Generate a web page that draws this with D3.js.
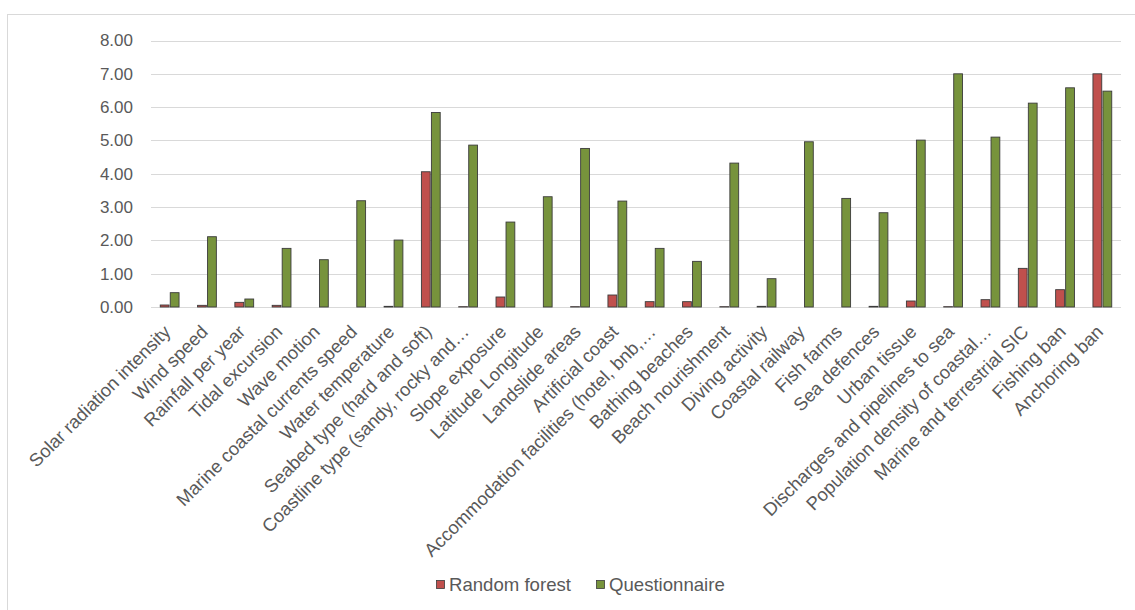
<!DOCTYPE html>
<html>
<head>
<meta charset="utf-8">
<script src="https://cdn.jsdelivr.net/npm/d3@7"></script>
<style>
  html, body { margin: 0; padding: 0; background: #ffffff; }
  svg { display: block; font-family: "Liberation Sans", Arial, sans-serif; }
</style>
</head>
<body>
<svg id="chart" width="1135" height="610"></svg>
<script>
const categories = [
  "Solar radiation intensity", "Wind speed", "Rainfall per year", "Tidal excursion",
  "Wave motion", "Marine coastal currents speed", "Water temperature",
  "Seabed type (hard and soft)", "Coastline type (sandy, rocky and\u2026",
  "Slope exposure", "Latitude Longitude", "Landslide areas", "Artificial coast",
  "Accommodation facilities (hotel, bnb,\u2026", "Bathing beaches", "Beach nourishment",
  "Diving activity", "Coastal railway", "Fish farms", "Sea defences", "Urban tissue",
  "Discharges and pipelines to sea", "Population density of coastal\u2026",
  "Marine and terrestrial SIC", "Fishing ban", "Anchoring ban"
];
const randomForest = [
  0.06, 0.05, 0.14, 0.05, 0.00, 0.00, 0.02, 4.06, 0.01, 0.30, 0.00, 0.01, 0.36,
  0.16, 0.16, 0.01, 0.02, 0.00, 0.00, 0.02, 0.18, 0.01, 0.22, 1.16, 0.52, 7.00
];
const questionnaire = [
  0.43, 2.11, 0.24, 1.76, 1.42, 3.19, 2.01, 5.84, 4.86, 2.55, 3.31, 4.76, 3.18,
  1.76, 1.37, 4.32, 0.85, 4.96, 3.26, 2.83, 5.01, 7.00, 5.10, 6.12, 6.58, 6.48
];
const seriesNames = ["Random forest", "Questionnaire"];
const yTicks = [0, 1, 2, 3, 4, 5, 6, 7, 8];

const colors = ["#C0504D", "#77933C"];
const textColor = "#595959";

const svg = d3.select("#chart");

// chart area border
svg.append("rect")
  .attr("x", 7.5).attr("y", 14.5)
  .attr("width", 1140).attr("height", 610)
  .attr("fill", "none").attr("stroke", "#d9d9d9").attr("stroke-width", 1);

const x = d3.scaleBand().domain(categories).range([151, 1121]).paddingInner(0).paddingOuter(0);
const y = d3.scaleLinear().domain([0, 8]).range([307, 40.5]);

// gridlines
svg.append("g")
  .selectAll("line")
  .data(yTicks)
  .join("line")
  .attr("x1", 151).attr("x2", 1121)
  .attr("y1", d => Math.round(y(d)) + 0.5)
  .attr("y2", d => Math.round(y(d)) + 0.5)
  .attr("stroke", "#d9d9d9").attr("stroke-width", 1.2);

// y axis labels
const yAxis = d3.axisLeft(y).tickValues(yTicks).tickFormat(d3.format(".2f")).tickSize(0).tickPadding(0);
const gy = svg.append("g").attr("transform", "translate(133,0)").call(yAxis);
gy.select(".domain").remove();
gy.selectAll("text")
  .attr("fill", textColor)
  .style("font-size", "17px")
  .style("font-family", "'Liberation Sans', Arial, sans-serif");

// bars
const barW = 8.8, gap = 1.2;
const data = categories.map((c, i) => ({ c, vals: [randomForest[i], questionnaire[i]] }));
const groups = svg.append("g").selectAll("g")
  .data(data)
  .join("g")
  .attr("transform", d => `translate(${x(d.c) + x.bandwidth() / 2},0)`);

groups.selectAll("rect")
  .data(d => d.vals.map((v, k) => ({ v, k })))
  .join("rect")
  .attr("x", d => d.k === 0 ? -gap / 2 - barW : gap / 2)
  .attr("width", barW)
  .attr("y", d => y(d.v))
  .attr("height", d => y(0) - y(d.v))
  .attr("fill", d => colors[d.k])
  .attr("stroke", "#3b3b3b")
  .attr("stroke-width", 0.9);

// x axis labels
const xAxis = d3.axisBottom(x).tickSize(0).tickPadding(0);
const gx = svg.append("g").attr("transform", "translate(0,307)").call(xAxis);
gx.select(".domain").remove();
gx.selectAll("text")
  .attr("fill", textColor)
  .style("font-size", "18.4px")
  .style("font-family", "'Liberation Sans', Arial, sans-serif")
  .attr("text-anchor", "end")
  .attr("dy", "0")
  .attr("y", 0)
  .attr("transform", "translate(2,26) rotate(-45)");

// legend
const legend = svg.append("g");
const items = [
  { name: seriesNames[0], color: colors[0], x: 436 },
  { name: seriesNames[1], color: colors[1], x: 596 }
];
items.forEach(it => {
  legend.append("rect")
    .attr("x", it.x + 0.5).attr("y", 580.5)
    .attr("width", 8).attr("height", 8)
    .attr("fill", it.color).attr("stroke", "#3b3b3b").attr("stroke-width", 0.8);
  legend.append("text")
    .attr("x", it.x + 13).attr("y", 591)
    .attr("fill", textColor)
    .style("font-size", "18.6px")
    .text(it.name);
});
</script>
</body>
</html>
